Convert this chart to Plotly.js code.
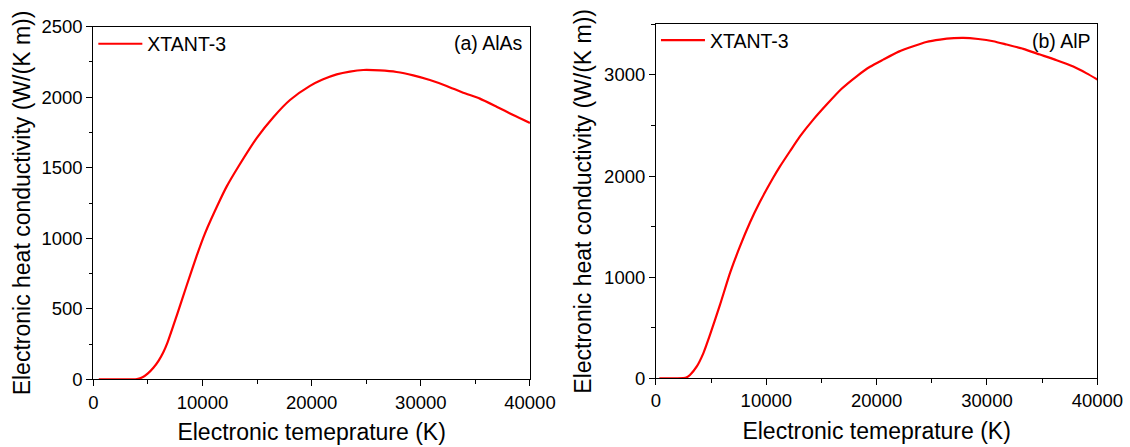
<!DOCTYPE html>
<html>
<head>
<meta charset="utf-8">
<script src="https://cdn.plot.ly/plotly-3.0.1.min.js"></script>
<style>
  html, body { margin: 0; padding: 0; background: #fff; }
  #chart { width: 1130px; height: 447px; }
</style>
</head>
<body>
<div id="chart"></div>
<script>
// Panel (a) AlAs
const tempA = [500, 2000, 3500, 4000, 4500, 5000, 5500, 6000, 6400, 6800, 7633, 8550, 9465, 10230, 11605, 12210, 13280, 14965, 16490, 18015, 19850, 21000, 22295, 23500, 24730, 26260, 27780, 29310, 30830, 32360, 33880, 35410, 36940, 38460, 40000];
const kappaA = [0, 0, 0, 2, 14, 42, 82, 135, 190, 262, 450, 665, 875, 1035, 1271, 1366, 1507, 1710, 1858, 1980, 2080, 2125, 2162, 2182, 2193, 2190, 2179, 2155, 2122, 2080, 2032, 1990, 1933, 1874, 1818];

// Panel (b) AlP
const tempB = [300, 1500, 2477, 2800, 3081, 3686, 4290, 4894, 5800, 6707, 7613, 8520, 9425, 10634, 11240, 12144, 13050, 14200, 15470, 16800, 18190, 19400, 20600, 22000, 23320, 24500, 25740, 27000, 27850, 29200, 30570, 31780, 33290, 34800, 36310, 37820, 39030, 40000];
const kappaB = [0, 0, 2, 10, 33, 115, 247, 429, 726, 1040, 1304, 1540, 1745, 1985, 2095, 2245, 2392, 2550, 2706, 2860, 2986, 3080, 3151, 3230, 3283, 3325, 3349, 3363, 3366, 3355, 3333, 3300, 3257, 3201, 3145, 3082, 3015, 2955];

const seriesName = 'XTANT-3';
const xTitle = 'Electronic temeprature (K)';
const yTitle = 'Electronic heat conductivity (W/(K m))';
const panelLabels = ['(a) AlAs', '(b) AlP'];

const FONT = 'Liberation Sans, Arial, Helvetica, sans-serif';

const traces = [
  { x: tempA, y: kappaA, type: 'scatter', mode: 'lines', name: seriesName,
    line: { color: '#ff0000', width: 2.2, shape: 'spline', smoothing: 0.6 }, xaxis: 'x', yaxis: 'y', legend: 'legend' },
  { x: tempB, y: kappaB, type: 'scatter', mode: 'lines', name: seriesName,
    line: { color: '#ff0000', width: 2.2, shape: 'spline', smoothing: 0.6 }, xaxis: 'x2', yaxis: 'y2', legend: 'legend2' }
];

function xAxis(domain, anchor) {
  return {
    domain: domain, anchor: anchor, range: [0, 40000], tick0: 0, dtick: 10000,
    tickformat: 'd', ticks: 'outside', ticklen: 6, tickwidth: 1, tickcolor: '#000',
    minor: { dtick: 5000, ticks: 'outside', ticklen: 3.5, tickwidth: 1, tickcolor: '#000', showgrid: false },
    showline: true, linecolor: '#000', linewidth: 1, mirror: true,
    showgrid: false, zeroline: false, automargin: false,
    tickfont: { size: 18.5, color: '#000', family: FONT },
    title: { text: xTitle, font: { size: 23, color: '#000', family: FONT }, standoff: 12 }
  };
}
function yAxis(domain, anchor, max, dt, standoff) {
  return {
    domain: domain, anchor: anchor, range: [0, max], tick0: 0, dtick: dt,
    tickformat: 'd', ticks: 'outside', ticklen: 6, tickwidth: 1, tickcolor: '#000',
    minor: { dtick: dt / 2, ticks: 'outside', ticklen: 3.5, tickwidth: 1, tickcolor: '#000', showgrid: false },
    showline: true, linecolor: '#000', linewidth: 1, mirror: true,
    showgrid: false, zeroline: false, automargin: false,
    tickfont: { size: 18.5, color: '#000', family: FONT },
    title: { text: yTitle, font: { size: 23, color: '#000', family: FONT }, standoff: standoff }
  };
}

const layout = {
  width: 1130, height: 447,
  margin: { l: 0, r: 0, t: 0, b: 0 },
  paper_bgcolor: '#fff', plot_bgcolor: '#fff',
  font: { family: FONT, size: 18.5, color: '#000' },
  showlegend: true,
  xaxis: xAxis([0.0826, 0.4690], 'y'),
  yaxis: yAxis([0.1514, 0.9403], 'x', 2500, 500, 4),
  xaxis2: xAxis([0.5805, 0.9711], 'y2'),
  yaxis2: yAxis([0.1537, 0.9456], 'x2', 3500, 1000, 6),
  legend: { x: 0.0826, y: 0.945, xanchor: 'left', yanchor: 'top', bgcolor: 'rgba(0,0,0,0)',
            borderwidth: 0, itemwidth: 44, font: { size: 19.5, family: FONT, color: '#000' } },
  legend2: { x: 0.5805, y: 0.953, xanchor: 'left', yanchor: 'top', bgcolor: 'rgba(0,0,0,0)',
             borderwidth: 0, itemwidth: 44, font: { size: 19.5, family: FONT, color: '#000' } },
  annotations: [
    { text: panelLabels[0], xref: 'paper', yref: 'paper', x: 525 / 1130, y: 1 - 43.3 / 447,
      xanchor: 'right', yanchor: 'middle', showarrow: false, font: { size: 19.5, family: FONT, color: '#000' } },
    { text: panelLabels[1], xref: 'paper', yref: 'paper', x: 1093.3 / 1130, y: 1 - 40.7 / 447,
      xanchor: 'right', yanchor: 'middle', showarrow: false, font: { size: 19.5, family: FONT, color: '#000' } }
  ]
};

Plotly.newPlot('chart', traces, layout, { staticPlot: true, displayModeBar: false });
</script>
</body>
</html>
